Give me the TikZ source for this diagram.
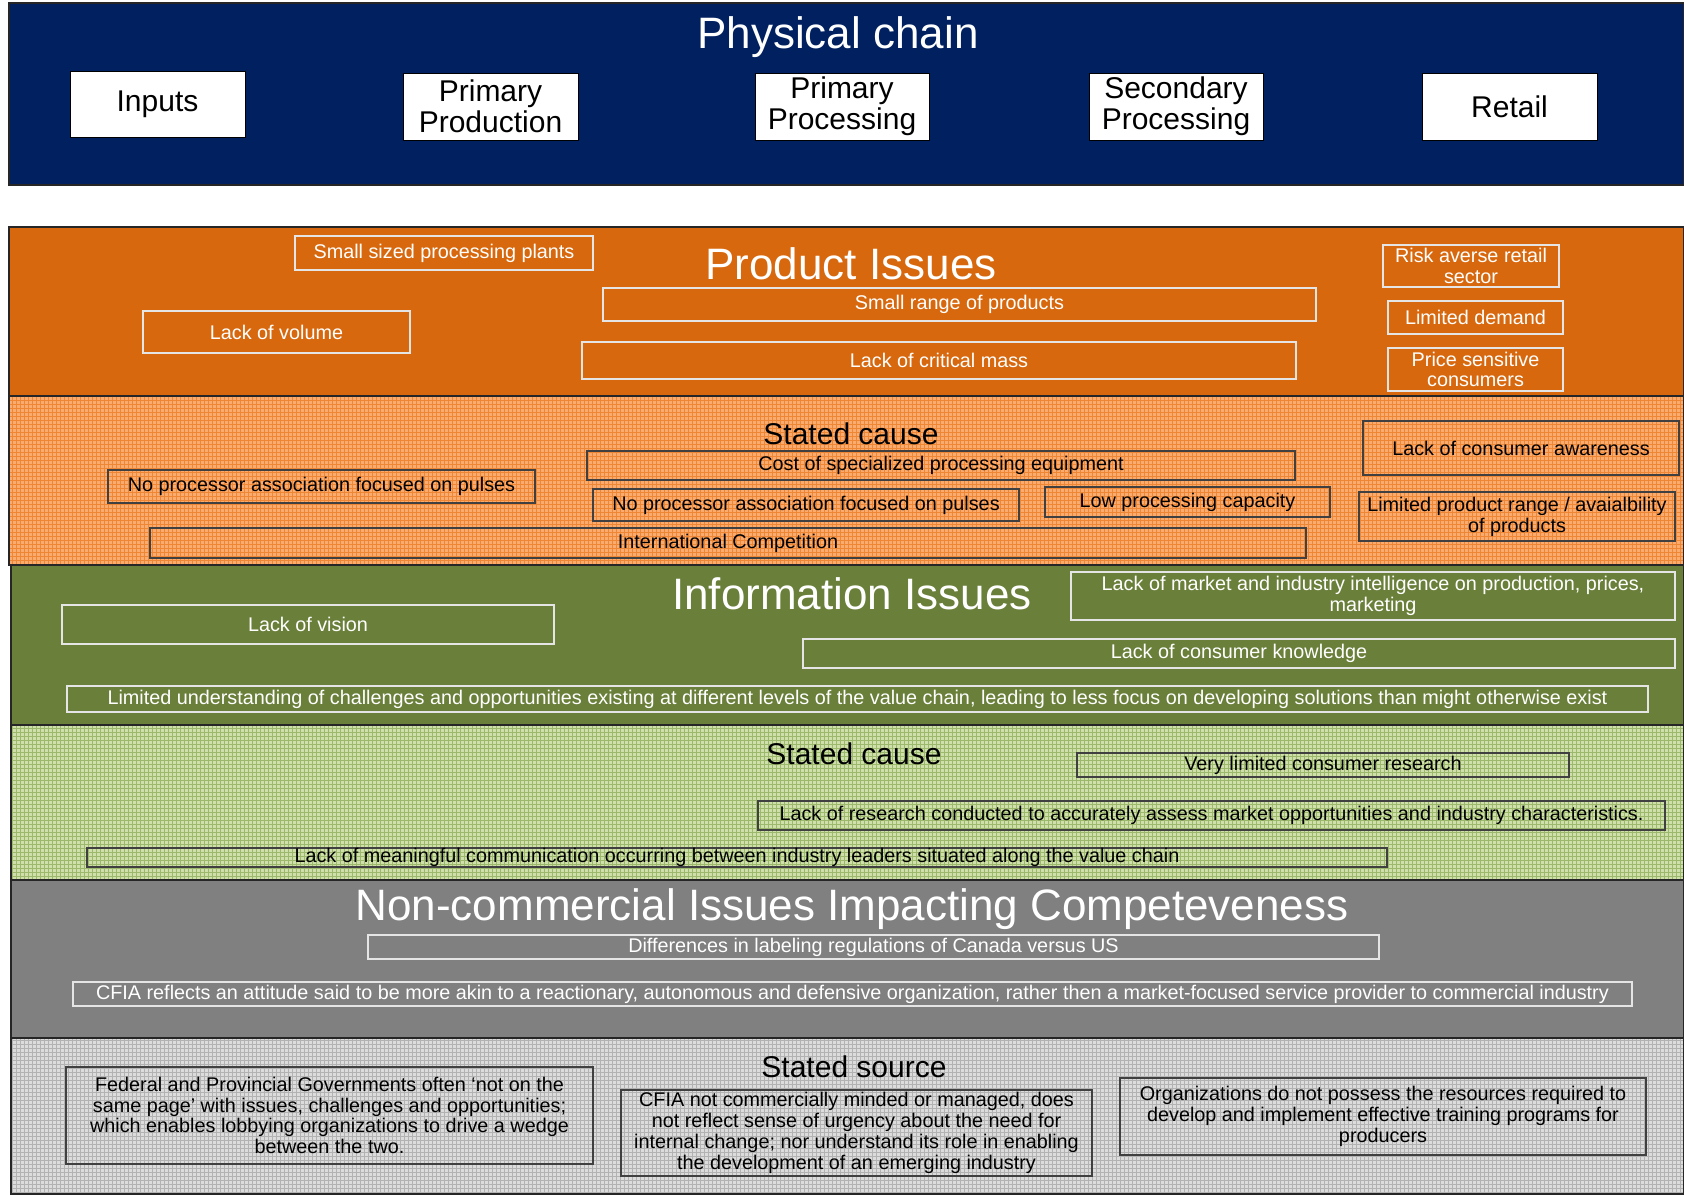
\documentclass[tikz,border=0pt]{standalone}
\usepackage{fontspec}
\setmainfont{Liberation Sans}
\usepackage{tikz}
\usetikzlibrary{positioning}
\usepackage{xcolor}

\definecolor{chainblue}{HTML}{002060}
\definecolor{prodorange}{HTML}{D8680E}
\definecolor{causeorange}{HTML}{F9AB70}
\definecolor{gridorange}{HTML}{EE8633}
\definecolor{infogreen}{HTML}{6A803A}
\definecolor{causegreen}{HTML}{D0E0AC}
\definecolor{gridgreen}{HTML}{9CB86A}
\definecolor{noncomgray}{HTML}{808080}
\definecolor{sourcegray}{HTML}{DCDCDC}
\definecolor{gridgray}{HTML}{B2B2B2}

\tikzset{
  band/.style={draw=black!85, line width=0.6pt},
  bandtitle/.style={font=\fontsize{22}{24}\selectfont, inner sep=0pt},
  subtitle/.style={font=\fontsize{15}{17}\selectfont, inner sep=0pt},
  chainbox/.style={draw=black, fill=white, align=center, inner sep=0pt, font=\fontsize{15}{15.5}\selectfont},
  wbox/.style={draw=white!90!black, text=white, align=center, inner sep=0pt, line width=0.6pt, font=\fontsize{9.9}{10.4}\selectfont},
  bbox/.style={draw=black!75, text=black, align=center, inner sep=0pt, line width=0.6pt, font=\fontsize{9.9}{10.4}\selectfont},
  texture/.style={line width=0.4pt}
}

\begin{document}
\begin{tikzpicture}[x=0.5pt, y=-0.5pt]
    \useasboundingbox (0,0) rectangle (1684,1194);

    % Physical chain
    \draw[band, fill=chainblue] (9,3) rectangle (1684,185);
    \node[bandtitle, text=white] (chain) at (838,37) {Physical chain};
    \node[chainbox, minimum width=87.5pt, minimum height=33pt] (inputs) at (157.5,104) {Inputs};
    \node[chainbox, minimum width=87.5pt, minimum height=33.5pt] (primprod) at (490.5,106.5) {Primary\\Production};
    \node[chainbox, minimum width=87pt, minimum height=33.5pt] (primproc) at (842,106.5) {Primary\\Processing};
    \node[chainbox, minimum width=87pt, minimum height=33.5pt] (secproc) at (1176,106.5) {Secondary\\Processing};
    \node[chainbox, minimum width=87.5pt, minimum height=33.5pt] (retail) at (1509.5,106.5) {Retail};

    % Product issues
    \draw[band, fill=prodorange] (9,227) rectangle (1684,396);
    \node[bandtitle, text=white] (product) at (851,264) {Product Issues};
    \node[wbox, minimum width=149pt, minimum height=17pt] (plants) at (444,253) {Small sized processing plants};
    \node[wbox, minimum width=356.5pt, minimum height=16.5pt] (range) at (959.5,304.5) {Small range of products};
    \node[wbox, minimum width=133.5pt, minimum height=21pt] (volume) at (276.5,332) {Lack of volume};
    \node[wbox, minimum width=357pt, minimum height=18.5pt] (mass) at (939,360.5) {Lack of critical mass};
    \node[wbox, minimum width=88pt, minimum height=21pt] (risk) at (1471,266) {Risk averse retail\\sector};
    \node[wbox, minimum width=87.5pt, minimum height=16.5pt] (demand) at (1475.5,317.5) {Limited demand};
    \node[wbox, minimum width=87.5pt, minimum height=21.5pt] (price) at (1475.5,369.5) {Price sensitive\\consumers};

    % Stated cause (product)
    \fill[causeorange] (9,396) rectangle (1684,565);
    \draw[gridorange, texture, step=2pt] (9,396) grid (1684,565);
    \draw[band] (9,396) rectangle (1684,565);
    \node[subtitle] (pcause) at (851,434) {Stated cause};
    \node[bbox, minimum width=354pt, minimum height=14.5pt] (cost) at (941,465.5) {Cost of specialized processing equipment};
    \node[bbox, minimum width=213.5pt, minimum height=16.5pt] (noassoc) at (321.5,486.5) {No processor association focused on pulses};
    \node[bbox, minimum width=213pt, minimum height=16pt] (noassocb) at (806,505) {No processor association focused on pulses};
    \node[bbox, minimum width=142.5pt, minimum height=15pt] (lowcap) at (1187.5,502) {Low processing capacity};
    \node[bbox, minimum width=578pt, minimum height=15pt] (intl) at (728,543) {International Competition};
    \node[bbox, minimum width=158pt, minimum height=27pt] (aware) at (1521,448) {Lack of consumer awareness};
    \node[bbox, minimum width=158pt, minimum height=24.5pt] (avail) at (1517,516.5) {Limited product range / avaialbility\\of products};

    % Information issues
    \draw[band, fill=infogreen] (11,565) rectangle (1684,725);
    \node[bandtitle, text=white] (info) at (852,594) {Information Issues};
    \node[wbox, minimum width=246pt, minimum height=19.5pt] (vision) at (308,624.5) {Lack of vision};
    \node[wbox, minimum width=302pt, minimum height=24pt] (intel) at (1373,596) {Lack of market and industry intelligence on production, prices,\\marketing};
    \node[wbox, minimum width=436pt, minimum height=14.5pt] (knowledge) at (1239,653.5) {Lack of consumer knowledge};
    \node[wbox, minimum width=790.5pt, minimum height=13pt] (underst) at (857.5,699) {Limited understanding of challenges and opportunities existing at different levels of the value chain, leading to less focus on developing solutions than might otherwise exist};

    % Stated cause (information)
    \fill[causegreen] (11,725) rectangle (1684,880);
    \draw[gridgreen, texture, step=2pt] (11,725) grid (1684,880);
    \draw[band] (11,725) rectangle (1684,880);
    \node[subtitle] (icause) at (854,754) {Stated cause};
    \node[bbox, minimum width=246pt, minimum height=12pt] (consres) at (1323,765) {Very limited consumer research};
    \node[bbox, minimum width=453.5pt, minimum height=14.5pt] (research) at (1211.5,815.5) {Lack of research conducted to accurately assess market opportunities and industry characteristics.};
    \node[bbox, minimum width=650pt, minimum height=9.5pt] (comm) at (737,857.5) {Lack of meaningful communication occurring between industry leaders situated along the value chain};

    % Non-commercial issues
    \draw[band, fill=noncomgray] (11,880) rectangle (1684,1038);
    \node[bandtitle, text=white] (noncom) at (852,909) {Non-commercial Issues Impacting Competeveness};
    \node[wbox, minimum width=505.5pt, minimum height=12pt] (labeling) at (873.5,947) {Differences in labeling regulations of Canada versus US};
    \node[wbox, minimum width=779.5pt, minimum height=12pt] (attitude) at (852.5,994) {CFIA reflects an attitude said to be more akin to a reactionary, autonomous and defensive organization, rather then a market-focused service provider to commercial industry};

    % Stated source
    \fill[sourcegray] (11,1038) rectangle (1684,1194);
    \draw[gridgray, texture, step=2pt] (11,1038) grid (1684,1194);
    \draw[band] (11,1038) rectangle (1684,1194);
    \node[subtitle] (source) at (854,1067) {Stated source};
    \node[bbox, minimum width=263.5pt, minimum height=48.5pt] (federal) at (329.5,1115.5) {Federal and Provincial Governments often ‘not on the\\same page’ with issues, challenges and opportunities;\\which enables lobbying organizations to drive a wedge\\between the two.};
    \node[bbox, minimum width=235.5pt, minimum height=43pt] (cfia) at (856.5,1133) {CFIA not commercially minded or managed, does\\not reflect sense of urgency about the need for\\internal change; nor understand its role in enabling\\the development of an emerging industry};
    \node[bbox, minimum width=263pt, minimum height=38.5pt] (orgs) at (1383,1116.5) {Organizations do not possess the resources required to\\develop and implement effective training programs for\\producers};
\end{tikzpicture}
\end{document}
